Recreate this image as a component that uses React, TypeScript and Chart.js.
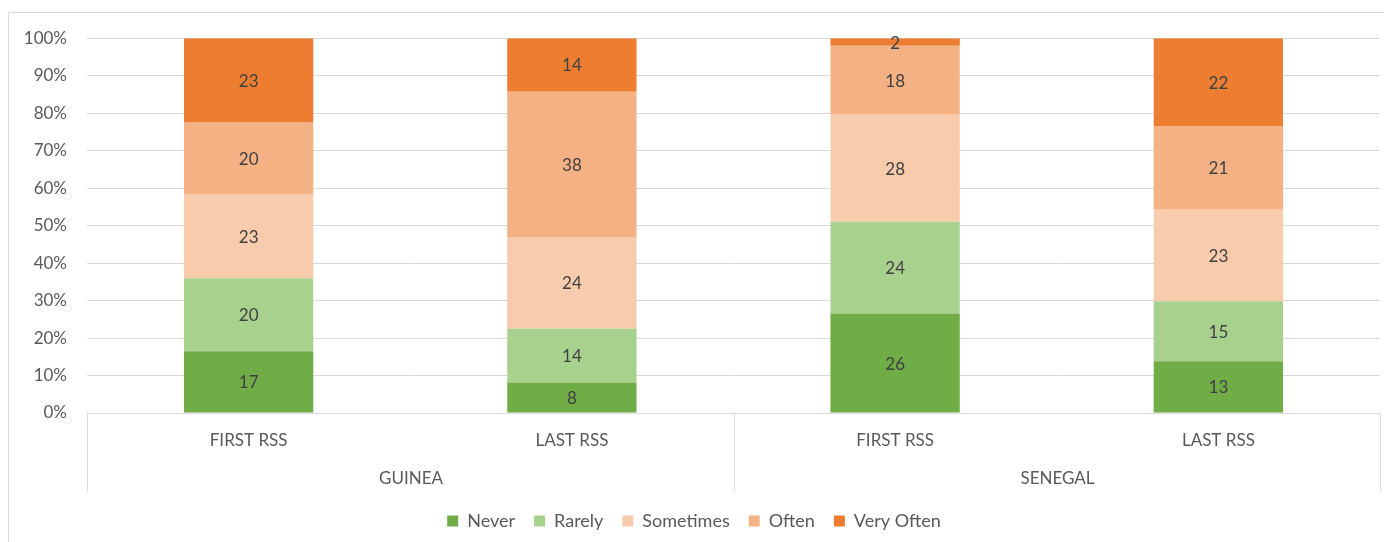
import React, { useEffect, useRef } from "react";
import { Chart, registerables } from "chart.js";

Chart.register(...registerables);

const categories = ["FIRST RSS", "LAST RSS", "FIRST RSS", "LAST RSS"];
const groups = ["GUINEA", "SENEGAL"];
const groupSpans = [2, 2];
const seriesNames = ["Never", "Rarely", "Sometimes", "Often", "Very Often"];
const never = [17, 8, 26, 13];
const rarely = [20, 14, 24, 15];
const sometimes = [23, 24, 28, 23];
const often = [20, 38, 18, 21];
const veryOften = [23, 14, 2, 22];
const seriesColors = ["#70AD47", "#A9D18E", "#F8CBAD", "#F4B183", "#ED7D31"];
const yMax = 100;
const yStep = 10;

const FONT = "Lato";
const FS = 17;
const TEXT = "#595959";
const GRID = "#D9D9D9";

const overlay = {
  id: "overlay",
  beforeDraw(chart: any) {
    const ctx = chart.ctx;
    ctx.save();
    ctx.strokeStyle = GRID;
    ctx.lineWidth = 1;
    ctx.beginPath();
    ctx.moveTo(0.5, chart.height);
    ctx.lineTo(0.5, 4.5);
    ctx.lineTo(chart.width, 4.5);
    ctx.stroke();
    ctx.restore();
  },
  afterDatasetsDraw(chart: any) {
    const ctx = chart.ctx;
    ctx.save();
    ctx.font = `${FS}px ${FONT}`;
    ctx.fillStyle = "#404040";
    ctx.textAlign = "center";
    ctx.textBaseline = "middle";
    chart.data.datasets.forEach((ds: any, di: number) => {
      const meta = chart.getDatasetMeta(di);
      meta.data.forEach((el: any, i: number) => {
        const y = (el.y + el.base) / 2;
        ctx.fillText(String(ds.counts[i]), el.x, y + 1);
      });
    });
    ctx.restore();
  },
  afterDraw(chart: any) {
    const ctx = chart.ctx;
    const x = chart.scales.x;
    const area = chart.chartArea;
    const bottom = area.bottom;
    const sepH = 78;
    const half = (x.getPixelForValue(1) - x.getPixelForValue(0)) / 2;
    ctx.save();
    ctx.strokeStyle = GRID;
    ctx.lineWidth = 1;
    let idx = 0;
    const bounds: number[] = [Math.round(x.getPixelForValue(0) - half) + 0.5];
    groupSpans.forEach((span) => {
      idx += span;
      bounds.push(Math.round(x.getPixelForValue(idx - 1) + half) + 0.5);
    });
    ctx.beginPath();
    bounds.forEach((bx) => {
      ctx.moveTo(bx, bottom);
      ctx.lineTo(bx, bottom + sepH);
    });
    ctx.stroke();
    ctx.font = `${FS}px ${FONT}`;
    ctx.fillStyle = TEXT;
    ctx.textAlign = "center";
    ctx.textBaseline = "middle";
    groups.forEach((g, gi) => {
      ctx.fillText(g, (bounds[gi] + bounds[gi + 1]) / 2, bottom + 66);
    });
    ctx.restore();
  },
};

export default function App() {
  const ref = useRef<HTMLCanvasElement | null>(null);
  useEffect(() => {
    if (!ref.current) return;
    const series = [never, rarely, sometimes, often, veryOften];
    const totals = categories.map((_, i) => series.reduce((s, arr) => s + arr[i], 0));
    const chart = new Chart(ref.current, {
      type: "bar",
      data: {
        labels: categories,
        datasets: series.map((arr, si) => ({
          label: seriesNames[si],
          data: arr.map((v, i) => (v / totals[i]) * 100),
          counts: arr,
          backgroundColor: seriesColors[si],
          borderWidth: 0,
          categoryPercentage: 1,
          barPercentage: 0.4,
        })) as any,
      },
      options: {
        animation: false,
        responsive: true,
        maintainAspectRatio: false,
        layout: { padding: { top: 28, right: 12, bottom: 2, left: 0 } },
        plugins: {
          tooltip: { enabled: false },
          legend: {
            position: "bottom",
            labels: {
              boxWidth: 11,
              boxHeight: 11,
              padding: 19,
              color: TEXT,
              font: { family: FONT, size: 18 },
            },
          },
        },
        scales: {
          x: {
            stacked: true,
            grid: { display: false, drawTicks: false },
            border: { display: false },
            ticks: {
              color: TEXT,
              font: { family: FONT, size: FS },
              padding: 17,
              maxRotation: 0,
              autoSkip: false,
            },
            afterFit(scale: any) {
              scale.height = 80;
            },
          },
          y: {
            stacked: true,
            min: 0,
            max: yMax,
            grid: { color: GRID, drawTicks: false },
            border: { display: false },
            ticks: {
              stepSize: yStep,
              color: TEXT,
              font: { family: FONT, size: FS },
              padding: 20,
              callback: (v: any) => `${v}%`,
            },
            afterFit(scale: any) {
              scale.width = 79;
            },
          },
        },
      },
      plugins: [overlay],
    });
    return () => chart.destroy();
  }, []);
  return (
    <div style={{ position: "relative", width: 1384, height: 534 }}>
      <canvas ref={ref} />
    </div>
  );
}
